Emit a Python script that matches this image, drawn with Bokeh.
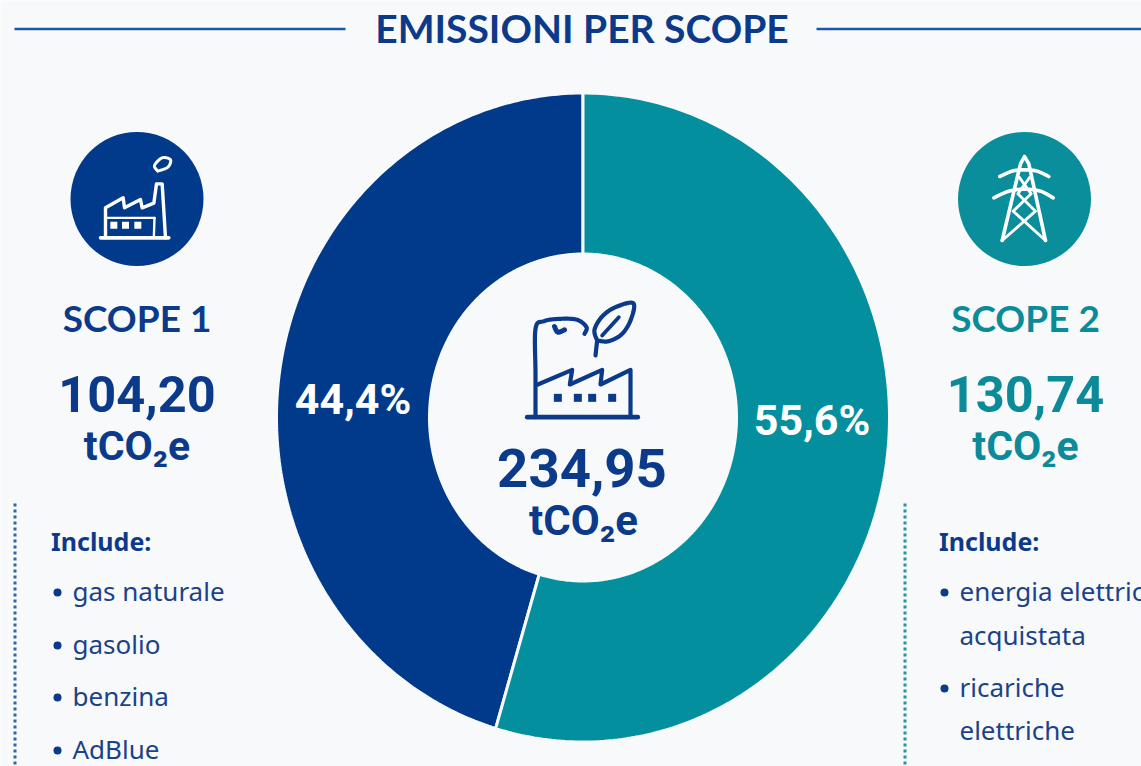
import numpy as np
from bokeh.plotting import figure
from bokeh.embed import file_html
from bokeh.resources import INLINE
from bokeh.core.properties import value

# ---- data ----
scopes = ["SCOPE 1", "SCOPE 2"]
drawn_shares = [45.4, 54.6]          # size of the slices as drawn
share_labels = ["44,4%", "55,6%"]
scope_values = ["104,20", "130,74"]
total_value = "234,95"
unit = "tCO₂e"
title = "EMISSIONI PER SCOPE"
list_head = "Include:"
left_items = ["gas naturale", "gasolio", "benzina", "AdBlue"]
right_items = ["energia elettrica", "acquistata", "ricariche", "elettriche"]

BG = "#f8f9fb"
NAVY = "#023a8b"
TEAL = "#048f9e"
TXT = "#0c3a8a"
LIST = "#1b4289"
TTXT = "#0b8b99"

W, H = 1141, 766
p = figure(width=W, height=H, x_range=(0, W), y_range=(H, 0),
           output_backend="svg", toolbar_location=None, min_border=0,
           background_fill_color=BG, border_fill_color=BG, outline_line_color=None)
p.axis.visible = False
p.grid.visible = False

# ---- donut from shares ----
CX, CY = 582.5, 417.0
RX_O, RY_O, RX_I, RY_I = 306.5, 324.5, 153.5, 163.5

def ring(a0, a1):
    t = np.radians(np.linspace(a0, a1, 240))
    xo = CX + RX_O * np.sin(t); yo = CY - RY_O * np.cos(t)
    xi = CX + RX_I * np.sin(t[::-1]); yi = CY - RY_I * np.cos(t[::-1])
    return list(np.r_[xo, xi]), list(np.r_[yo, yi])

a2 = drawn_shares[1] / sum(drawn_shares) * 360
x2, y2 = ring(0, a2)
x1, y1 = ring(a2, 360)
p.patches([x1, x2], [y1, y2], fill_color=[NAVY, TEAL], line_color=BG, line_width=3)

# ---- helpers ----
def txt(x, y, s, size, color, font="Lato", style="bold", align="center"):
    p.text([x], [y - 2], text=[s], text_font=value(font), text_font_style=style,
           text_font_size=f"{size}px", text_color=color, text_align=align,
           text_baseline="middle")

def stroke(ox, oy, pts, color, w, k=1 / 3):
    p.line([ox + a * k for a, _ in pts], [oy + b * k for _, b in pts],
           line_color=color, line_width=w, line_cap="round", line_join="round")

def smooth(pts, n=10):
    # Catmull-Rom through the given icon points
    P = np.array(pts, float)
    P = np.vstack([P[0], P, P[-1]])
    out = []
    for i in range(1, len(P) - 2):
        for t in np.linspace(0, 1, n, endpoint=False):
            out.append(0.5 * (2 * P[i] + (P[i + 1] - P[i - 1]) * t
                              + (2 * P[i - 1] - 5 * P[i] + 4 * P[i + 1] - P[i + 2]) * t ** 2
                              + (3 * P[i] - P[i - 1] - 3 * P[i + 1] + P[i + 2]) * t ** 3))
    out.append(P[-1])
    return [tuple(q) for q in out]

def dot(ox, oy, pts, color, s, k=1 / 3):
    p.scatter([ox + a * k for a, _ in pts], [oy + b * k for _, b in pts],
              marker="square", size=s, fill_color=color, line_color=None)

# ---- title ----
txt(581.5, 29, title, 39, TXT)
p.line([14, 345], [28.5, 28.5], line_color="#1d58a5", line_width=2.5)
p.line([816, 1141], [28.5, 28.5], line_color="#1d58a5", line_width=2.5)

# ---- side badges ----
p.ellipse([136.5, 1024], [198.5, 198.5], width=[133, 133], height=[134, 134],
          fill_color=[NAVY, "#0a8e9b"], line_color=None)

# factory icon
ox, oy = 50, 120
stroke(ox, oy, [(150, 352), (355, 352)], "white", 3.6)
stroke(ox, oy, [(165, 352), (165, 262), (218, 232), (222, 262), (270, 237), (275, 262), (310, 248),
                (318, 190), (335, 190), (345, 352)], "white", 3.4)
stroke(ox, oy, [(172, 292), (312, 292)], "white", 2.4)
stroke(ox, oy, [(312, 292), (310, 352)], "white", 2.4)
stroke(ox, oy, smooth([(322, 152), (312, 135), (335, 112), (360, 118), (352, 140), (322, 152)]), "white", 3)
dot(ox, oy, [(190, 314), (225, 314), (262, 314)], "white", 7)

# tower icon
ox, oy = 940, 120
W2 = "white"
stroke(ox, oy, [(185, 360), (240, 130), (252, 108), (265, 130), (315, 360)], W2, 3.6)
stroke(ox, oy, smooth([(178, 168), (215, 152), (252, 148), (290, 152), (325, 168)]), W2, 3.6)
stroke(ox, oy, smooth([(160, 232), (205, 212), (252, 206), (300, 212), (338, 232)]), W2, 3.6)
stroke(ox, oy, [(185, 360), (285, 272), (232, 220), (268, 170)], W2, 2.8)
stroke(ox, oy, [(315, 360), (218, 272), (272, 220), (236, 170)], W2, 2.8)

# ---- scope texts ----
for cx, name, val, col in zip([136.5, 1025], scopes, scope_values, [TXT, TTXT]):
    txt(cx, 319, name, 37, col)
    txt(cx, 395, val, 50.5, col, font="Roboto", style="bold")
    txt(cx, 447, unit, 41, col, font="Roboto", style="bold")

# ---- slice labels ----
txt(352.5, 400, share_labels[0], 43, "white", font="Roboto", style="bold")
txt(811.5, 421, share_labels[1], 43, "white", font="Roboto", style="bold")

# ---- center ----
ox, oy = 480, 290
stroke(ox, oy, [(140, 380), (472, 380)], TXT, 4.6)
stroke(ox, oy, smooth([(165, 380), (165, 250), (165, 115), (190, 92), (240, 85), (290, 88), (318, 110), (312, 130)]), TXT, 4.2)
stroke(ox, oy, smooth([(222, 108), (232, 125), (252, 118)]), TXT, 5)
stroke(ox, oy, [(172, 282), (275, 238), (268, 282), (365, 238), (360, 282), (450, 238), (450, 380)], TXT, 4.2)
dot(ox, oy, [(232, 322), (292, 322), (335, 322), (395, 322)], TXT, 8)
stroke(ox, oy, [(345, 195), (350, 150)], TXT, 4.2)
stroke(ox, oy, smooth([(350, 150), (342, 118), (365, 78), (405, 50), (458, 38), (452, 85), (425, 130),
                       (385, 152), (350, 150)]), TXT, 4.2)
stroke(ox, oy, [(365, 135), (415, 80)], TXT, 3.8)
txt(581.5, 469, total_value, 54.5, TXT, font="Roboto", style="bold")
txt(583, 522, unit, 42, TXT, font="Roboto", style="bold")

# ---- lists ----
p.line([14.5, 14.5], [503, 766], line_color="#2d66ad", line_width=3, line_dash="3 3")
p.line([904.5, 904.5], [503, 766], line_color="#1e96a6", line_width=3, line_dash="3 3")

def lst(head_x, bullet_x, text_x, ys, items, bullets):
    txt(head_x, 542, list_head, 25, TXT, font="Noto Sans", align="left")
    for y, s, b in zip(ys, items, bullets):
        if b:
            p.scatter([bullet_x], [y], marker="circle", size=8, fill_color=TXT, line_color=None)
        txt(text_x, y, s, 26, LIST, font="Noto Sans", style="normal", align="left")

lst(50.5, 57, 72, [592, 645, 697, 750], left_items, [True] * 4)
lst(938.5, 944, 959, [592, 636, 688, 731], right_items, [True, False, True, False])

open("out.html", "w").write(file_html(p, INLINE))
